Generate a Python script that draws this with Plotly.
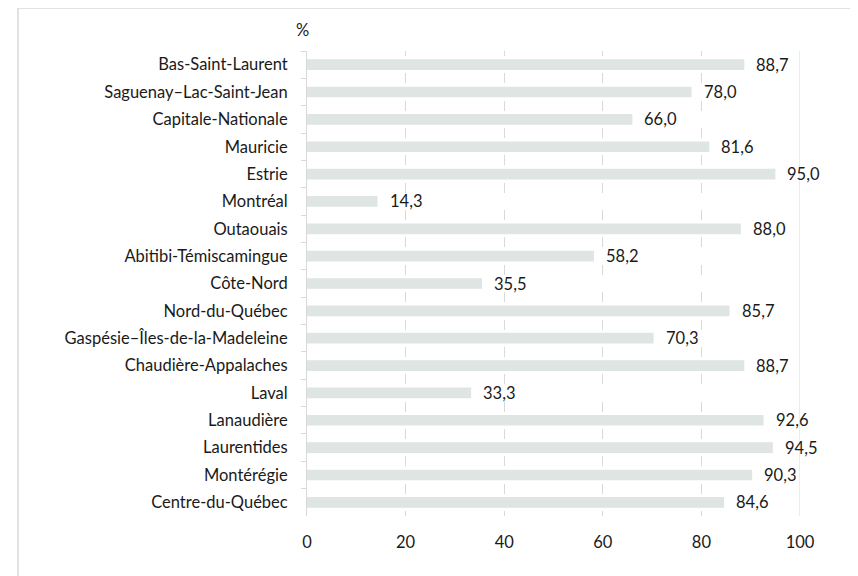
import plotly.graph_objects as go

regions = ["Bas-Saint-Laurent", "Saguenay–Lac-Saint-Jean", "Capitale-Nationale", "Mauricie",
           "Estrie", "Montréal", "Outaouais", "Abitibi-Témiscamingue", "Côte-Nord",
           "Nord-du-Québec", "Gaspésie–Îles-de-la-Madeleine", "Chaudière-Appalaches", "Laval",
           "Lanaudière", "Laurentides", "Montérégie", "Centre-du-Québec"]
values = [88.7, 78.0, 66.0, 81.6, 95.0, 14.3, 88.0, 58.2, 35.5, 85.7, 70.3, 88.7, 33.3,
          92.6, 94.5, 90.3, 84.6]
x_ticks = [0, 20, 40, 60, 80, 100]

labels = [f"{v:.1f}".replace(".", ",") for v in values]

FONT = "Lato, Open Sans, sans-serif"
FS = 16.5
TXT = "#1a1a1a"

fig = go.Figure(go.Bar(
    x=values, y=regions, orientation="h",
    marker=dict(color="#DEE5E3", line=dict(width=0)),
    width=0.39,
))

# page body adds an 8px offset; compensate so the plot lands at the reference position
OFF = 8
W, H = 858, 576
L, R, T, B = 307 - OFF, 58 + OFF, 51 - OFF, 60 + OFF
pw, ph = W - L - R, H - T - B
step = ph / len(regions)
half = 5
gap = step - 2 * half
grid_dash = f"{half}px,{gap:.2f}px,{half}px,0px"


def px_x(sx):
    return (sx - OFF - L) / pw


def px_y(sy):
    return (H - B - (sy - OFF)) / ph


annotations = [dict(text="%", xref="paper", yref="paper", x=px_x(302),
                    y=px_y(30), showarrow=False, xanchor="center", yanchor="middle",
                    font=dict(size=FS, family=FONT, color=TXT))]
for r, v, t in zip(regions, values, labels):
    annotations.append(dict(x=v, y=r, xref="x", yref="y", text=t, showarrow=False,
                            xanchor="left", yanchor="middle", xshift=10, yshift=0,
                            font=dict(size=FS, family=FONT, color=TXT)))

fig.update_layout(
    width=W, height=H,
    margin=dict(l=L, r=R, t=T, b=B, autoexpand=False),
    paper_bgcolor="white", plot_bgcolor="white",
    showlegend=False,
    font=dict(family=FONT, size=FS, color=TXT),
    xaxis=dict(range=[0, 100], tickvals=x_ticks, showgrid=True, gridcolor="#D9D9D9",
               griddash=grid_dash, gridwidth=1, zeroline=False, showline=False,
               ticks="", tickfont=dict(size=FS), ticklabelstandoff=14, automargin=False),
    yaxis=dict(autorange="reversed", showline=True, linecolor="#D9D9D9", linewidth=1,
               ticks="outside", tickson="boundaries", ticklen=5, tickcolor="#D9D9D9",
               tickfont=dict(size=FS), showgrid=False, ticklabelstandoff=15, automargin=False),
    shapes=[
        dict(type="line", xref="x", yref="paper", x0=100, x1=100, y0=0, y1=1,
             line=dict(color="#D9D9D9", width=1)),
        dict(type="rect", xref="paper", yref="paper",
             x0=px_x(18), x1=px_x(854),
             y0=px_y(600), y1=px_y(8),
             line=dict(color="#D9D9D9", width=1.5), fillcolor="rgba(0,0,0,0)", layer="below"),
    ],
    annotations=annotations,
)

fig.write_html("out.html")
